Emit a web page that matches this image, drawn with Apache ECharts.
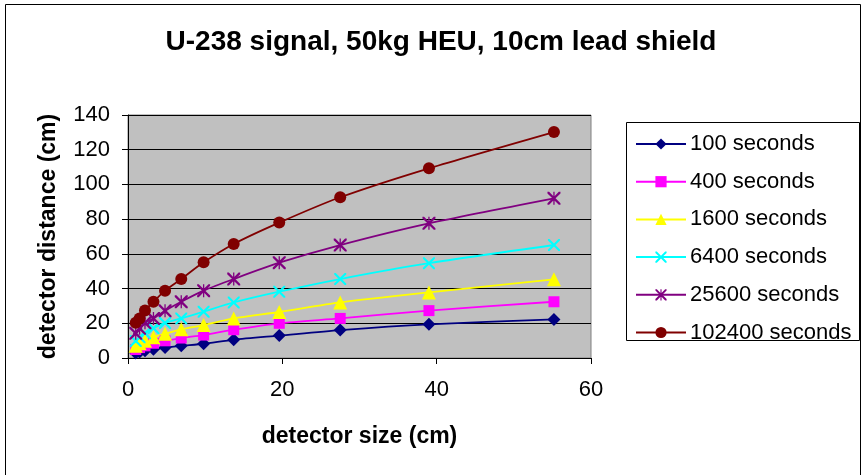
<!DOCTYPE html>
<html>
<head>
<meta charset="utf-8">
<script src="https://cdn.jsdelivr.net/npm/echarts@6/dist/echarts.min.js"></script>
<style>
  html, body { margin: 0; padding: 0; background: #fff; }
  #chart { width: 865px; height: 475px; }
</style>
</head>
<body>
<div id="chart"></div>
<script>
// detector size (cm)
var sizes = [1.0, 1.5, 2.2, 3.3, 4.8, 6.9, 9.8, 13.7, 19.6, 27.5, 39.0, 55.2];

// detector distance (cm) for each counting time
var s100 = [2.9, 3.5, 4.2, 5.0, 6.0, 7.0, 8.2, 10.5, 12.9, 16.1, 19.4, 22.2];
var s400 = [4.9, 6.0, 7.0, 8.5, 9.9, 11.5, 13.2, 16.3, 20.0, 22.8, 27.3, 32.4];
var s1600 = [7.0, 8.5, 9.9, 12.0, 14.0, 16.5, 19.0, 22.8, 26.5, 32.0, 37.8, 45.3];
var s6400 = [9.8, 12.0, 14.2, 17.1, 20.2, 22.8, 26.7, 32.0, 38.2, 45.5, 54.6, 65.1];
var s25600 = [14.2, 17.1, 20.3, 22.8, 27.2, 32.4, 38.8, 45.5, 54.9, 65.1, 77.6, 92.0];
var s102400 = [20.3, 22.8, 27.3, 32.4, 38.8, 45.5, 55.1, 65.7, 78.0, 92.6, 109.3, 130.2];

var names = ["100 seconds", "400 seconds", "1600 seconds", "6400 seconds", "25600 seconds", "102400 seconds"];
var xTicks = [0, 20, 40, 60];
var yTicks = [0, 20, 40, 60, 80, 100, 120, 140];

var FONT = "'Liberation Sans', Arial, sans-serif";
var xMark = "path://M0,0 L2.5,0 L10,7.5 L17.5,0 L20,0 L20,2.5 L12.5,10 L20,17.5 L20,20 L17.5,20 L10,12.5 L2.5,20 L0,20 L0,17.5 L7.5,10 L0,2.5 Z";
var starMark = xMark + " M9,0 L11,0 L11,20 L9,20 Z";

function pairs(ys) {
  return sizes.map(function (x, i) { return [x, ys[i]]; });
}

function line(name, ys, color, symbol, size) {
  return {
    name: name,
    type: "line",
    data: pairs(ys),
    smooth: 0.25,
    symbol: symbol,
    symbolSize: size,
    lineStyle: { color: color, width: 1.8 },
    itemStyle: { color: color },
    emphasis: { disabled: true },
  };
}

var myChart = echarts.init(document.getElementById("chart"));
var option = {
  animation: false,
  backgroundColor: "#fff",
  graphic: [
    {
      type: "rect",
      shape: { x: 5.5, y: 4.5, width: 855, height: 480 },
      style: { fill: null, stroke: "#000", lineWidth: 1 },
      silent: true,
    },
    {
      type: "rect",
      shape: { x: 626.5, y: 122.5, width: 233, height: 218 },
      style: { fill: "#fff", stroke: "#000", lineWidth: 1 },
      silent: true,
    },
    {
      type: "text",
      x: 441,
      y: 42,
      style: {
        text: "U-238 signal, 50kg HEU, 10cm lead shield",
        font: "bold 28px " + FONT,
        fill: "#000",
        align: "center",
        verticalAlign: "middle",
      },
    },
  ],
  grid: {
    left: 128,
    top: 115,
    width: 463,
    height: 243,
    show: true,
    backgroundColor: "#C0C0C0",
    borderColor: "#808080",
    borderWidth: 1,
  },
  legend: {
    orient: "vertical",
    left: 635,
    top: 133,
    padding: 0,
    itemWidth: 50,
    itemHeight: 14,
    itemGap: 15.7,
    data: names,
    textStyle: {
      fontFamily: FONT,
      fontSize: 22,
      color: "#000",
      padding: [0, 0, 0, -1],
    },
  },
  xAxis: {
    type: "value",
    min: xTicks[0],
    max: xTicks[xTicks.length - 1],
    interval: 20,
    name: "detector size (cm)",
    nameLocation: "middle",
    nameGap: 67,
    nameTextStyle: {
      fontFamily: FONT,
      fontSize: 23,
      fontWeight: "bold",
      color: "#000",
    },
    axisLine: { lineStyle: { color: "#000", width: 1 } },
    axisTick: { length: 6, lineStyle: { color: "#000" } },
    axisLabel: {
      margin: 21,
      fontFamily: FONT,
      fontSize: 22,
      color: "#000",
    },
    splitLine: { show: false },
  },
  yAxis: {
    type: "value",
    min: yTicks[0],
    max: yTicks[yTicks.length - 1],
    interval: 20,
    name: "detector distance (cm)",
    nameLocation: "middle",
    nameGap: 68,
    nameTextStyle: {
      fontFamily: FONT,
      fontSize: 23,
      fontWeight: "bold",
      color: "#000",
    },
    axisLine: { show: true, lineStyle: { color: "#000", width: 1 } },
    axisTick: { show: true, length: 6, lineStyle: { color: "#000" } },
    axisLabel: {
      margin: 18,
      fontFamily: FONT,
      fontSize: 22,
      color: "#000",
    },
    splitLine: { lineStyle: { color: "#000", width: 1 } },
  },
  series: [
    line(names[0], s100, "#000080", "diamond", 13),
    line(names[1], s400, "#FF00FF", "rect", 11),
    line(names[2], s1600, "#FFFF00", "triangle", 14),
    line(names[3], s6400, "#00FFFF", xMark, 12),
    line(names[4], s25600, "#800080", starMark, 13),
    line(names[5], s102400, "#800000", "circle", 12),
  ],
};
myChart.setOption(option);
</script>
</body>
</html>
